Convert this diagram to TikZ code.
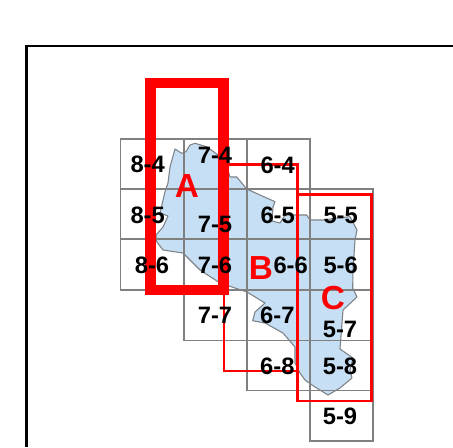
\documentclass[tikz,border=0pt]{standalone}
\usepackage{fontspec}
\setmainfont{Liberation Sans}
\definecolor{landblue}{RGB}{198,223,244}
\definecolor{gridgray}{RGB}{128,128,128}
\definecolor{coastgray}{RGB}{125,130,135}
\tikzset{
  cell/.style={draw=gridgray,line width=0.85pt,fill=none},
  sheet/.style={font=\fontsize{17.8}{18}\selectfont\bfseries,text=black,inner sep=0pt},
  zone/.style={font=\fontsize{25}{26}\selectfont\bfseries,text=red,inner sep=0pt},
  land/.style={fill=landblue,draw=coastgray,line width=0.8pt,line join=round},
  thinred/.style={draw=red,line width=2.2pt},
  thickred/.style={draw=red,line width=8pt,line join=miter},
  frame/.style={draw=black,line width=1.9pt,line cap=butt,line join=miter}
}
\begin{document}
\begin{tikzpicture}[x=0.75pt,y=-0.75pt]
\useasboundingbox (0,0) rectangle (453,447);
\fill[white] (0,0) rectangle (453,447);
\draw[frame] (26.5,447) -- (26.5,46) -- (453,46);
% land
\draw[land] (175,149) -- (181.7,153.3) -- (186,151.7) -- (190,145) -- (195,143.3) -- (206.7,146.7) -- (218,155) -- (225,160) -- (230,177) -- (236.7,177) -- (246.7,189) -- (260,195) -- (275,201.7) -- (273,207) -- (272,221) -- (280,223) -- (285,215) -- (306.7,215) -- (310,220) -- (323,220) -- (337,218) -- (350,216.7) -- (357,230) -- (355,240) -- (353,270) -- (352.7,288) -- (357,297) -- (343,310) -- (340,349) -- (353,358) -- (350,370) -- (352,378) -- (340,388) -- (328,395) -- (315,387) -- (305,380) -- (300,373) -- (295,363) -- (295,347) -- (283,333) -- (265,323) -- (252.7,320.7) -- (255,312) -- (265,303) -- (247,292) -- (220,283) -- (200,270) -- (183,253) -- (163,250) -- (156.7,241.7) -- (156,235) -- (163,227) -- (168,216) -- (160,213) -- (165,191.7) -- (168,183) -- (170,167) -- cycle;
% grid
\foreach \xa/\xb/\ya/\yb in {120.5/184/139/189, 120.5/184/189/239, 120.5/184/239/290,
  184/247/139/189, 184/247/189/239, 184/247/239/290, 184/247/290/340.5,
  247/310/139/189, 247/310/189/239, 247/310/239/290, 247/310/290/340.5, 247/310/340.5/390.5,
  310/373/189/239, 310/373/239/290, 310/373/290/340.5, 310/373/340.5/390.5, 310/373/390.5/441}
  \draw[cell] (\xa,\ya) rectangle (\xb,\yb);
% zones
\draw[thinred] (224,164.3) rectangle (297.3,371);
\draw[thinred] (297.3,194.3) rectangle (371.5,401);
\draw[thickred] (150.7,83) rectangle (223.7,290);
% labels
\node[sheet] (s84) at (147.7,164) {8-4};
\node[sheet] (s85) at (147.7,215) {8-5};
\node[sheet] (s86) at (152,265) {8-6};
\node[sheet] (s74) at (215,155) {7-4};
\node[sheet] (s75) at (215,224) {7-5};
\node[sheet] (s76) at (215,265) {7-6};
\node[sheet] (s77) at (215,315) {7-7};
\node[sheet] (s64) at (277.7,165) {6-4};
\node[sheet] (s65) at (277.7,215) {6-5};
\node[sheet] (s66) at (290.7,265) {6-6};
\node[sheet] (s67) at (277.3,315) {6-7};
\node[sheet] (s68) at (277.3,366) {6-8};
\node[sheet] (s55) at (340.7,215) {5-5};
\node[sheet] (s56) at (340.7,265) {5-6};
\node[sheet] (s57) at (340,329) {5-7};
\node[sheet] (s58) at (340,366) {5-8};
\node[sheet] (s59) at (340,416) {5-9};
\node[zone] (za) at (187,186) {A};
\node[zone] (zb) at (261,268) {B};
\node[zone] (zc) at (333,298) {C};
\end{tikzpicture}
\end{document}
